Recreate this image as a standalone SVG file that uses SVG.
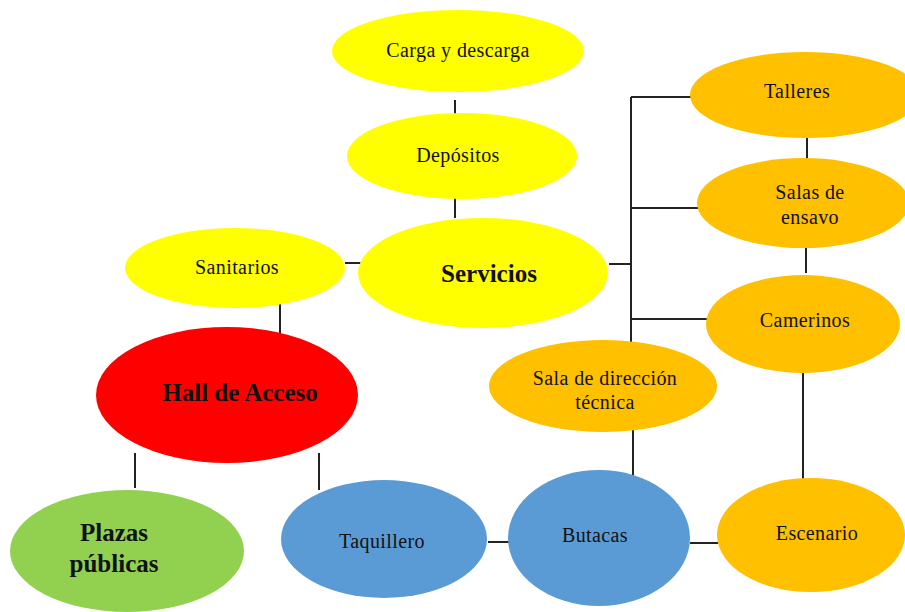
<svg xmlns="http://www.w3.org/2000/svg" width="905" height="612" viewBox="0 0 905 612">
<style>
.y{fill:#FFFF00}.o{fill:#FFC000}.r{fill:#FF0000}.g{fill:#92D050}.b{fill:#5B9BD5}
text{font-family:"Liberation Serif","Times New Roman",serif;font-size:20px;letter-spacing:0.4px;fill:#111;text-anchor:middle}
.bd{font-weight:bold;font-size:25px;letter-spacing:0}
.ln{stroke:#222;stroke-width:2;fill:none}
</style>
<rect width="905" height="612" fill="#fff"/>
<g id="connectors">
<path class="ln" d="M455 100V137M455 182V218M345 263H366M280 288V337M135 453V488M319 453V490M631 97V355M631 97H707M631 208H707M609 264H631M631 319H707M807 137V172M806 243V273M803 372V480M633 423V480M488 542H510M690 543H718"/>
</g>
<g id="carga"><ellipse class="y" cx="458" cy="51" rx="126" ry="41"/><text x="458" y="57">Carga y descarga</text></g>
<g id="depositos"><ellipse class="y" cx="462" cy="156" rx="115" ry="43"/><text x="458" y="162">Depósitos</text></g>
<g id="servicios"><ellipse class="y" cx="483" cy="273" rx="125" ry="55"/><text class="bd" x="489" y="282">Servicios</text></g>
<g id="sanitarios"><ellipse class="y" cx="235" cy="268" rx="110" ry="40"/><text x="237" y="274">Sanitarios</text></g>
<g id="hall"><ellipse class="r" cx="227" cy="395" rx="131" ry="68"/><text class="bd" x="240" y="401">Hall de Acceso</text></g>
<g id="plazas"><ellipse class="g" cx="127" cy="551" rx="117" ry="61"/><text class="bd" x="114" y="541">Plazas</text><text class="bd" x="114" y="572">públicas</text></g>
<g id="taquillero"><ellipse class="b" cx="384" cy="539" rx="103" ry="59"/><text x="382" y="548">Taquillero</text></g>
<g id="butacas"><ellipse class="b" cx="599" cy="538" rx="91" ry="68"/><text x="595" y="542">Butacas</text></g>
<g id="escenario"><ellipse class="o" cx="811" cy="535" rx="94" ry="57"/><text x="817" y="540">Escenario</text></g>
<g id="sala"><ellipse class="o" cx="603" cy="386" rx="114" ry="46"/><text x="605" y="385">Sala de dirección</text><text x="605" y="409">técnica</text></g>
<g id="talleres"><ellipse class="o" cx="805" cy="95" rx="115" ry="43"/><text x="797" y="98">Talleres</text></g>
<g id="salas"><ellipse class="o" cx="803" cy="203" rx="106" ry="45"/><text x="810" y="199">Salas de</text><text x="810" y="224">ensavo</text></g>
<g id="camerinos"><ellipse class="o" cx="803" cy="324" rx="97" ry="49"/><text x="805" y="327">Camerinos</text></g>
</svg>
